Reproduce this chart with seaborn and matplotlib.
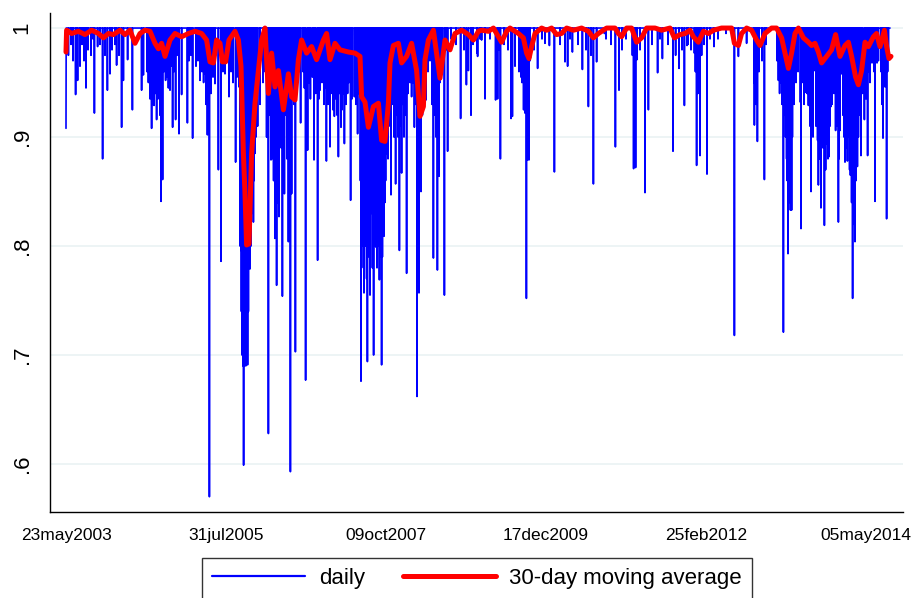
import numpy as np
import pandas as pd
import matplotlib
matplotlib.use("Agg")
import matplotlib.pyplot as plt
from matplotlib.lines import Line2D
import seaborn as sns

# ---- data (days counted from 23may2003) ----
start_date = "2003-05-23"
last_day = 4120

# deep / clearly visible daily dips
spike_days = [
    0, 48, 58, 70, 100, 142, 158, 183, 207, 220, 253, 278, 287, 308, 332, 378, 387,
    428, 440, 453, 475, 483, 498, 520, 533, 548, 565, 578, 607, 633, 670, 695, 707,
    717, 745, 762, 775, 795, 815, 848, 865, 875, 882, 888, 895, 908, 920, 937, 945,
    1003, 1012, 1025, 1045, 1053, 1065, 1082, 1092, 1112, 1122, 1128, 1147, 1173,
    1198, 1208, 1240, 1258, 1270, 1302, 1320, 1342, 1362, 1375, 1392, 1423, 1442,
    1458, 1475, 1490, 1495, 1507, 1520, 1525, 1538, 1550, 1567, 1578, 1590, 1603,
    1625, 1648, 1667, 1678, 1703, 1728, 1742, 1755, 1765, 1775, 1800, 1837, 1857,
    1865, 1892, 1908, 1973, 2002, 2012, 2025, 2055, 2058, 2078, 2095, 2148, 2158,
    2172, 2225, 2232, 2245, 2288, 2295, 2302, 2308, 2315, 2358, 2395, 2417, 2442,
    2495, 2508, 2532, 2582, 2612, 2637, 2653, 2692, 2747, 2765, 2838, 2848, 2855,
    2895, 2912, 2958, 2982, 3035, 3065, 3092, 3105, 3142, 3153, 3170, 3205, 3240,
    3342, 3362, 3403, 3442, 3457, 3492, 3562, 3573, 3587, 3595, 3603, 3610, 3622,
    3628, 3672, 3675, 3698, 3712, 3725, 3742, 3758, 3762, 3775, 3782, 3792, 3805,
    3815, 3825, 3848, 3862, 3870, 3878, 3895, 3907, 3922, 3933, 3945, 3957, 3975,
    3992, 4000, 4008, 4030, 4045, 4055, 4085, 4095, 4103, 4112,
]
spike_vals = [
    .908, .939, .952, .965, .945, .922, .983, .880, .943, .958, .966, .909, .952, .971, .925, .943, .957,
    .908, .929, .916, .841, .861, .952, .943, .909, .916, .903, .939, .913, .899, .952, .958, .902,
    .570, .949, .870, .786, .958, .937, .877, .946, .796, .730, .599, .691, .691, .779, .822, .885,
    .900, .628, .879, .807, .764, .827, .754, .848, .804, .593, .848, .703, .913,
    .677, .888, .879, .787, .943, .878, .891, .919, .882, .909, .894, .842, .937,
    .903, .676, .757, .835, .694, .755, .873, .700, .799, .769, .691, .809, .885,
    .847, .857, .796, .867, .775, .937, .909, .662, .757, .850, .934, .789, .778,
    .864, .755, .887, .917, .948, .961, .920, .977, .974, .989, .935, .934, .935,
    .880, .917, .919, .965, .925, .922, .752, .879, .879, .963, .986, .984, .868,
    .969, .965, .978, .962, .928, .857, .969, .995, .891, .943, .871, .872, .971,
    .849, .925, .959, .972, .887, .963, .929, .984, .977, .874, .883, .866, .983,
    .718, .974, .986, .911, .896, .861, .952, .950, .721, .931, .880, .793, .833,
    .833, .932, .816, .941, .929, .850, .961, .897, .856, .835, .917, .819, .894,
    .882, .928, .906, .822, .906, .958, .877, .878, .865, .752, .804, .873, .883,
    .916, .935, .883, .968, .841, .968, .899, .946, .825, .975,
]

# smaller dips packed inside the busy stretches
dense_days = [
    12, 25, 35, 52, 80, 90, 110, 125, 135, 170, 195, 230, 245, 265,
    405, 412, 420, 432, 446, 460, 466, 470, 490, 505, 512, 527, 540, 555,
    615, 625, 650, 660, 680, 688, 700, 712, 725, 735, 785, 805, 825, 835, 855,
    870, 877, 880, 885, 891, 893, 899, 902, 905, 912, 916, 925, 930, 940, 950, 958, 970, 985, 995,
    1005, 1018, 1030, 1038, 1050, 1058, 1070, 1076, 1088, 1098, 1105, 1118, 1135, 1140, 1155, 1165,
    1185, 1192, 1215, 1222, 1232, 1248, 1265, 1280, 1290, 1296, 1310, 1330, 1335, 1350, 1356,
    1368, 1380, 1386, 1400, 1408, 1415, 1430, 1450, 1465,
    1472, 1480, 1484, 1487, 1500, 1503, 1510, 1514, 1517, 1528, 1532, 1535, 1542, 1545, 1555,
    1558, 1562, 1570, 1573, 1582, 1585, 1595, 1598, 1610, 1615,
    1630, 1640, 1655, 1660, 1672, 1685, 1690, 1698, 1710, 1720, 1735, 1748, 1760, 1770, 1782,
    1790, 1810, 1820, 1830, 1845, 1850, 1870, 1880, 1900, 1925, 1950, 1990, 2035, 2070,
    2120, 2165, 2190, 2210, 2265, 2275, 2280, 2320, 2340, 2380, 2470, 2520, 2560, 2600, 2625,
    2700, 2725, 2780, 2800, 2832, 2843, 2870, 2930, 2970, 3010, 3048, 3080,
    3110, 3125, 3147, 3160, 3178, 3190, 3220, 3260, 3300, 3440, 3450, 3465, 3480, 3500,
    3555, 3568, 3580, 3590, 3598, 3606, 3615, 3618, 3625, 3632, 3640, 3650, 3660, 3680, 3690,
    3705, 3720, 3730, 3735, 3750, 3768, 3770, 3785, 3798, 3800, 3810, 3820, 3830, 3840, 3855,
    3865, 3885, 3890, 3900, 3912, 3918, 3928, 3938, 3950, 3962, 3968, 3982, 4015, 4020, 4040,
    4062, 4075, 4080, 4090, 4100, 4108,
]
dense_vals = [
    .975, .985, .97, .975, .985, .97, .98, .975, .99, .985, .975, .98, .985, .975,
    .96, .95, .935, .93, .94, .935, .95, .92, .96, .955, .945, .965, .96, .975,
    .97, .975, .965, .97, .96, .95, .93, .91, .94, .955, .96, .97, .96, .95, .955,
    .80, .74, .70, .69, .69, .70, .69, .72, .70, .74, .78, .80, .83, .86, .90, .91, .93, .95, .96,
    .90, .92, .88, .86, .90, .84, .93, .89, .90, .92, .88, .94, .94, .93, .95, .96,
    .96, .945, .95, .935, .955, .94, .935, .95, .93, .945, .93, .94, .925, .935, .92,
    .94, .925, .94, .93, .94, .95, .935, .93, .94,
    .86, .82, .80, .78, .80, .77, .79, .82, .80, .83, .78, .81, .80, .83, .78,
    .80, .82, .79, .81, .79, .83, .84, .86, .88, .91,
    .93, .90, .92, .90, .91, .93, .90, .92, .94, .95, .95, .93, .90, .91, .92,
    .94, .96, .97, .93, .92, .90, .95, .97, .98, .99, .985, .98, .985, .99,
    .99, .98, .985, .98, .96, .955, .95, .97, .98, .99, .985, .99, .985, .98, .975,
    .99, .985, .98, .99, .975, .965, .98, .985, .99, .985, .975, .98,
    .985, .98, .96, .94, .975, .985, .99, .99, .995, .95, .93, .96, .97, .985,
    .97, .94, .93, .92, .90, .86, .84, .88, .86, .90, .93, .95, .96, .95, .93,
    .94, .91, .93, .90, .91, .88, .90, .89, .87, .90, .88, .91, .93, .94, .91,
    .88, .92, .90, .89, .90, .87, .84, .82, .86, .90, .92, .94, .96, .95, .96,
    .97, .96, .93, .95, .97, .96,
]

# 30-day moving average, read as (day, value) pairs
ma_days = [
    0, 3, 28, 62, 95, 128, 162, 187, 212, 237, 270, 295, 320, 345, 370, 395, 420, 445,
    462, 478, 495, 520, 545, 578, 612, 645, 678, 703, 720, 737, 753, 770, 782, 798,
    815, 845, 862, 875, 887, 895, 903, 915, 928, 945, 962, 978, 995, 1012, 1028,
    1045, 1062, 1087, 1112, 1128, 1145, 1162, 1178, 1203, 1228, 1253, 1287, 1303,
    1320, 1345, 1370, 1412, 1445, 1470, 1478, 1495, 1512, 1537, 1562, 1578, 1595,
    1612, 1620, 1637, 1662, 1678, 1703, 1728, 1753, 1770, 1787, 1795, 1812, 1837,
    1853, 1870, 1895, 1920, 1945, 1978, 2012, 2037, 2062, 2078, 2112, 2137, 2162,
    2178, 2203, 2220, 2262, 2287, 2303, 2315, 2328, 2345, 2378, 2403, 2428, 2453,
    2478, 2503, 2537, 2578, 2612, 2637, 2662, 2703, 2745, 2762, 2778, 2803, 2828,
    2853, 2878, 2903, 2945, 2978, 3020, 3042, 3070, 3095, 3120, 3137, 3162, 3187,
    3212, 3237, 3278, 3328, 3342, 3362, 3378, 3403, 3428, 3453, 3470, 3495, 3528,
    3553, 3578, 3595, 3612, 3628, 3645, 3662, 3687, 3712, 3728, 3745, 3762, 3778,
    3803, 3828, 3848, 3870, 3895, 3912, 3928, 3948, 3962, 3978, 3995, 4012, 4037,
    4053, 4070, 4092, 4103, 4115, 4125,
]
ma_vals = [
    .978, .998, .995, .997, .994, .998, .995, .991, .995, .994, .998, .994, .998, .986, .995, .998, .997, .986,
    .981, .986, .974, .989, .995, .992, .995, .997, .995, .989, .969, .968, .989, .986, .969, .969,
    .989, .997, .989, .965, .885, .848, .801, .802, .885, .931, .961, .989, 1.0, .940, .977,
    .946, .961, .925, .958, .937, .934, .971, .989, .977, .983, .971, .989, .995,
    .971, .986, .980, .978, .977, .974, .937, .932, .909, .928, .931, .897, .896,
    .931, .968, .984, .986, .968, .974, .986, .961, .919, .928, .971, .989, .998,
    .977, .954, .989, .980, .995, .998, .994, .989, .997, .998, .997, 1.0, .992,
    .987, .997, 1.0, .995, .991, .977, .972, .983, .995, 1.0, .998, 1.0, .994,
    .995, 1.0, .998, 1.0, .997, .991, .995, 1.0, 1.0, .995, .992, 1.0, 1.0,
    .987, .991, 1.0, 1.0, .998, 1.0, .991, .994, .995, .998, .992, .987, .997,
    .995, .998, 1.0, 1.0, .986, .984, .995, 1.0, .998, .989, .984, .995, 1.0,
    1.0, .991, .977, .963, .977, .995, 1.0, .991, .987, .984, .986, .978, .968,
    .974, .980, .994, .974, .984, .987, .974, .955, .948, .961, .987, .983, .992,
    .995, .983, .998, .983, .972, .974,
]

tick_dates = ["2003-05-23", "2005-07-31", "2007-10-09", "2009-12-17", "2012-02-25", "2014-05-05"]
tick_labels = ["23may2003", "31jul2005", "09oct2007", "17dec2009", "25feb2012", "05may2014"]
ytick_vals = [0.6, 0.7, 0.8, 0.9, 1.0]
ytick_labels = [".6", ".7", ".8", ".9", "1"]

# ---- build frames ----
t0 = pd.Timestamp(start_date)
daily_val = np.ones(last_day + 1)
for d, v in list(zip(dense_days, dense_vals)) + list(zip(spike_days, spike_vals)):
    daily_val[d] = min(daily_val[d], v)
daily = pd.DataFrame({
    "date": t0 + pd.to_timedelta(np.arange(last_day + 1), unit="D"),
    "value": daily_val,
})
ma = pd.DataFrame({
    "date": t0 + pd.to_timedelta(ma_days, unit="D"),
    "value": ma_vals,
})

sns.set_theme(style="white")
plt.rcParams["font.family"] = ["Liberation Sans", "DejaVu Sans"]
plt.rcParams["text.color"] = "black"
plt.rcParams["xtick.color"] = "black"
plt.rcParams["ytick.color"] = "black"

fig = plt.figure(figsize=(9.12, 5.98), dpi=100)
ax = fig.add_axes([50 / 912, 1 - 512 / 598, 853 / 912, 499 / 598])

sns.lineplot(data=daily, x="date", y="value", color="#0000ff", lw=1.2,
             estimator=None, ax=ax)
sns.lineplot(data=ma, x="date", y="value", color="#ff0000", lw=3.6,
             estimator=None, ax=ax)

ax.set_xlim(t0 - pd.Timedelta(days=80), t0 + pd.Timedelta(days=4185))
ax.set_ylim(0.556, 1.0138)

ax.set_xticks([pd.Timestamp(d) for d in tick_dates])
ax.set_xticklabels(tick_labels, fontsize=12.5)
ax.set_yticks(ytick_vals)
ax.set_yticklabels(ytick_labels, fontsize=16, rotation=90, va="center")
ax.tick_params(axis="both", direction="out", length=6.5, width=1.0, color="black")
ax.tick_params(axis="x", pad=5)
ax.tick_params(axis="y", pad=6)
ax.set_xlabel("")
ax.set_ylabel("")

ax.yaxis.grid(True, color="#eaf2f3", lw=1.2)
ax.set_axisbelow(True)
for side in ("top", "right"):
    ax.spines[side].set_visible(False)
for side in ("left", "bottom"):
    ax.spines[side].set_color("black")
    ax.spines[side].set_linewidth(1.0)

handles = [
    Line2D([], [], color="#0000ff", lw=1.6),
    Line2D([], [], color="#ff0000", lw=3.6),
]
leg = fig.legend(handles, ["daily", "30-day moving average"], ncol=2,
                 loc="upper center", bbox_to_anchor=(477 / 912, 51 / 598),
                 fontsize=16, frameon=True, fancybox=False, edgecolor="black",
                 handlelength=4.2, handletextpad=0.6, columnspacing=1.7,
                 borderpad=0.45)
leg.get_frame().set_linewidth(1.0)

fig.savefig("out.png", dpi=100)
